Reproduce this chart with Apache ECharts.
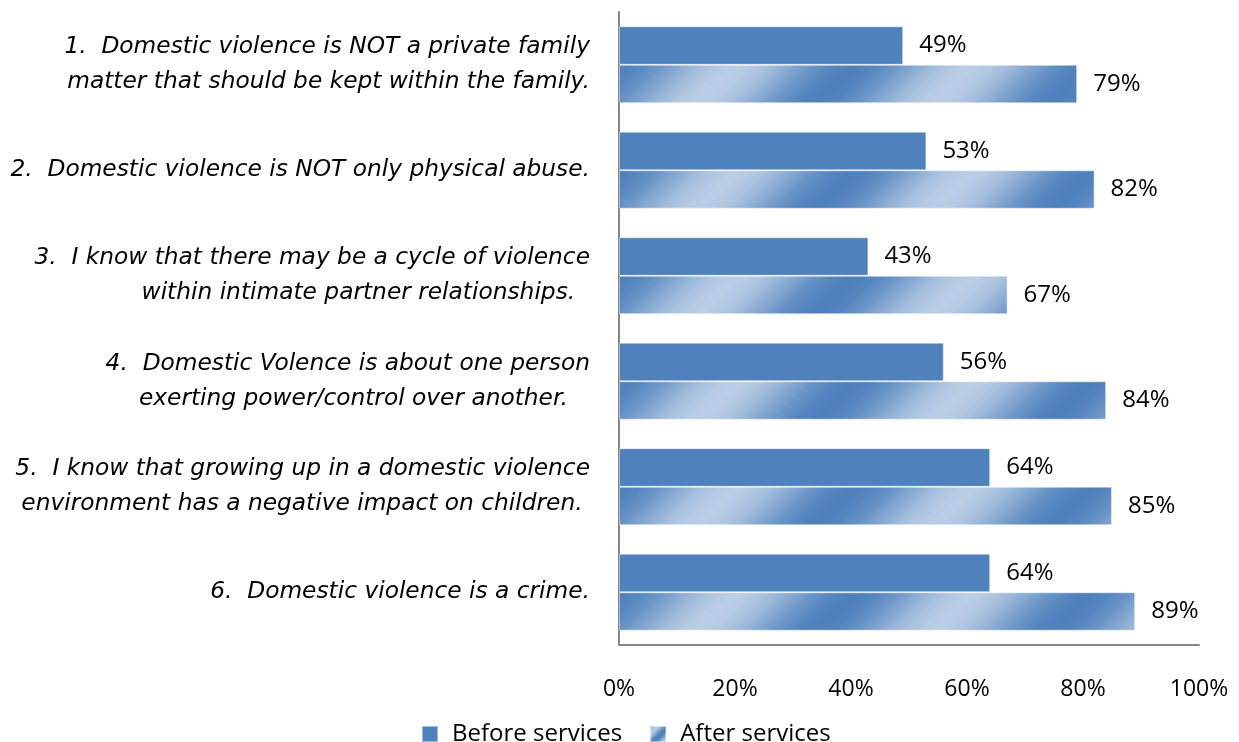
<!DOCTYPE html>
<html>
<head>
<meta charset="utf-8">
<script src="https://cdn.jsdelivr.net/npm/echarts@6/dist/echarts.min.js"></script>
<style>
  html, body { margin: 0; padding: 0; background: #fff; }
  #chart { width: 1239px; height: 742px; }
</style>
</head>
<body>
<div id="chart"></div>
<script>
// Survey statements (top to bottom)
const categories = [
  '1.  Domestic violence is NOT a private family\nmatter that should be kept within the family.',
  '2.  Domestic violence is NOT only physical abuse.',
  '3.  I know that there may be a cycle of violence\nwithin intimate partner relationships.  ',
  '4.  Domestic Volence is about one person\nexerting power/control over another.   ',
  '5.  I know that growing up in a domestic violence\nenvironment has a negative impact on children. ',
  '6.  Domestic violence is a crime.'
];
// Percent agreeing
const beforeServices = [49, 53, 43, 56, 64, 64];
const afterServices = [79, 82, 67, 84, 85, 89];
const seriesNames = ['Before services', 'After services'];
const xTicks = { min: 0, max: 100, step: 20 };

const FONT = '"Open Sans", Lato, sans-serif';
const CAT_FONT = '"DejaVu Sans", "Open Sans", sans-serif';
const DARK = [79, 129, 189];
const LIGHT = [185, 205, 229];
const TILE = 236;

// Diagonal repeating shade used for the "after" bars
function makeStripeTile(size, offset) {
  const c = document.createElement('canvas');
  c.width = size; c.height = size;
  const ctx = c.getContext('2d');
  const img = ctx.createImageData(size, size);
  for (let y = 0; y < size; y++) {
    for (let x = 0; x < size; x++) {
      const t = (((x + y - offset) % size) + size) % size / size;
      const w = 0.5 + 0.5 * Math.cos(2 * Math.PI * t);
      const i = (y * size + x) * 4;
      img.data[i] = DARK[0] + (LIGHT[0] - DARK[0]) * w;
      img.data[i + 1] = DARK[1] + (LIGHT[1] - DARK[1]) * w;
      img.data[i + 2] = DARK[2] + (LIGHT[2] - DARK[2]) * w;
      img.data[i + 3] = 255;
    }
  }
  ctx.putImageData(img, 0, 0);
  return c;
}
const stripeTile = makeStripeTile(TILE, 28);
// Small tile for the legend swatch: a compressed version of the same shade
const legendTile = makeStripeTile(24, 6);
const stripe = { image: stripeTile, repeat: 'repeat' };

const chart = echarts.init(document.getElementById('chart'), null, { renderer: 'canvas' });

const labelStyle = {
  show: true,
  position: 'right',
  distance: 16,
  formatter: '{c}%',
  fontFamily: FONT,
  fontSize: 24,
  color: '#000'
};

chart.setOption({
  animation: false,
  textStyle: { fontFamily: FONT },
  grid: { left: 619, right: 40, top: 12, bottom: 97, containLabel: false },
  legend: {
    data: [
      { name: seriesNames[0] },
      { name: seriesNames[1], itemStyle: { color: { image: legendTile, repeat: 'repeat' } } }
    ],
    left: 416,
    top: 717,
    itemWidth: 16,
    itemHeight: 16,
    itemGap: 27,
    icon: 'rect',
    textStyle: { fontFamily: FONT, fontSize: 24, color: '#000', padding: [0, 0, 0, 9] }
  },
  xAxis: {
    type: 'value',
    min: xTicks.min,
    max: xTicks.max,
    interval: xTicks.step,
    axisLabel: {
      formatter: '{value}%',
      fontFamily: FONT,
      fontSize: 23,
      color: '#000',
      margin: 33
    },
    axisLine: { show: true, lineStyle: { color: '#868686', width: 2 } },
    axisTick: { show: false },
    splitLine: { show: false }
  },
  yAxis: {
    type: 'category',
    inverse: true,
    data: categories,
    axisLabel: {
      fontFamily: CAT_FONT,
      fontStyle: 'italic',
      fontSize: 23.3,
      lineHeight: 35,
      color: '#000',
      margin: 29
    },
    axisLine: { show: true, lineStyle: { color: '#868686', width: 2 } },
    axisTick: { show: false }
  },
  series: [
    {
      name: seriesNames[0],
      type: 'bar',
      data: beforeServices,
      barGap: '0%',
      barCategoryGap: '27%',
      itemStyle: { color: 'rgb(79,129,189)', borderColor: 'rgba(255,255,255,0.45)', borderWidth: 1 },
      label: labelStyle
    },
    {
      name: seriesNames[1],
      type: 'bar',
      data: afterServices,
      itemStyle: { color: stripe, borderColor: 'rgba(255,255,255,0.45)', borderWidth: 1 },
      label: labelStyle
    }
  ]
});

// Anchor the stripe phase to each category row so every bar starts the same way
const afterItems = afterServices.map((v, i) => {
  const rowY = chart.convertToPixel({ yAxisIndex: 0 }, i);
  return {
    value: v,
    itemStyle: { color: { image: stripeTile, repeat: 'repeat', x: 0, y: rowY } }
  };
});
chart.setOption({ series: [{}, { data: afterItems }] });
</script>
</body>
</html>
